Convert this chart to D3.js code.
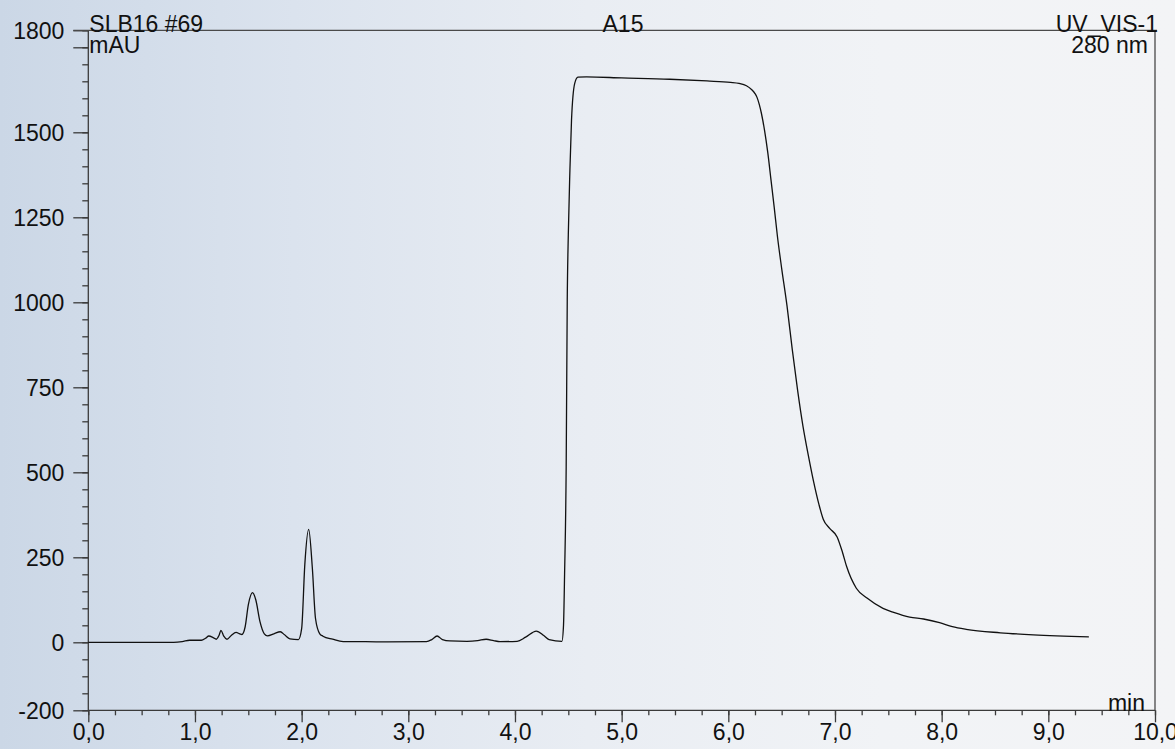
<!DOCTYPE html>
<html>
<head>
<meta charset="utf-8">
<script src="https://cdn.jsdelivr.net/npm/d3@7"></script>
<style>
  html, body { margin: 0; padding: 0; }
  body { width: 1175px; height: 749px; overflow: hidden;
         background: linear-gradient(90deg, #cbd7e6 0%, #dbe3ee 25%, #e9edf3 50%, #f1f3f6 75%, #f3f4f6 100%); }
  svg { display: block; font-family: "Liberation Sans", Arial, sans-serif; }
  .axis path, .axis line { stroke: #3a3a3a; stroke-width: 1.3; }
  .axis text { fill: #111; font-size: 23px; }
</style>
</head>
<body>
<svg id="chart" width="1175" height="749"></svg>
<script>
// retention time (min) and absorbance (mAU)
const times = [0.0, 0.5, 0.8, 0.88, 0.95, 1.06, 1.10, 1.13, 1.17, 1.20, 1.225, 1.244, 1.27, 1.30, 1.34, 1.385, 1.42, 1.44,
  1.47, 1.50, 1.54, 1.57, 1.61, 1.65, 1.68, 1.74, 1.80, 1.84, 1.89, 1.97, 2.00, 2.03, 2.066, 2.10, 2.13, 2.17, 2.20,
  2.29, 2.39, 2.6, 2.8, 3.17, 3.22, 3.27, 3.32, 3.39, 3.55, 3.65, 3.73, 3.80, 3.86, 4.02, 4.10, 4.20, 4.27, 4.32,
  4.44, 4.455, 4.465, 4.48, 4.49, 4.50, 4.515, 4.53, 4.56, 4.59, 4.67, 5.0, 5.45, 5.8, 6.02, 6.10, 6.17, 6.22, 6.25,
  6.27, 6.29, 6.31, 6.34, 6.37, 6.40, 6.43, 6.46, 6.50, 6.55, 6.60, 6.65, 6.70, 6.75, 6.80, 6.85, 6.89, 6.95, 7.02,
  7.07, 7.11, 7.20, 7.30, 7.45, 7.55, 7.70, 7.83, 7.98, 8.10, 8.23, 8.55, 8.86, 9.38];
const mAU = [0, 0, 0, 2, 6, 6, 12, 18.5, 14, 9, 20, 35, 18, 9, 20, 29, 25, 23,
  45, 110, 146, 125, 60, 25, 19, 25, 31, 22, 10, 8, 40, 230, 332, 220, 70, 25, 18,
  9, 2, 2, 1, 2, 8, 18.5, 8, 4, 3, 5, 9, 5, 2, 3, 15, 33, 20, 8,
  3, 50, 200, 516, 1007, 1200, 1389, 1536, 1644, 1662, 1663, 1660, 1656, 1651, 1647, 1644, 1637, 1625, 1614,
  1602, 1582, 1556, 1505, 1440, 1360, 1280, 1195, 1100, 990, 860, 740, 635, 550, 472, 405, 362, 335, 310,
  265, 222, 159, 130, 100, 88, 74, 68.5, 58, 46, 38, 28, 22, 16];

const yLabelTicks = [-200, 0, 250, 500, 750, 1000, 1250, 1500, 1750, 1800];
const xLabelTicks = [0, 1, 2, 3, 4, 5, 6, 7, 8, 9, 10];
const headerLeft = ["SLB16 #69", "mAU"];
const headerMid = "A15";
const headerRight = ["UV_VIS-1", "280 nm"];

const svg = d3.select("#chart");
const margin = { left: 88.3, right: 1155, top: 30.3, bottom: 710.3 };

const x = d3.scaleLinear().domain([0, 10]).range([margin.left, margin.right]);
const y = d3.scaleLinear().domain([-200, 1800]).range([margin.bottom, margin.top]);

const fmt = d3.format(".1f");

// minor ticks first
svg.append("g")
  .attr("class", "axis")
  .attr("transform", `translate(${margin.left},0)`)
  .call(d3.axisLeft(y).tickValues(d3.range(-200, 1801, 50)).tickSize(6).tickFormat(""))
  .call(g => g.select(".domain").remove());

svg.append("g")
  .attr("class", "axis")
  .attr("transform", `translate(0,${margin.bottom})`)
  .call(d3.axisBottom(x).tickValues(d3.range(0, 10.01, 0.25)).tickSize(5).tickFormat(""))
  .call(g => g.select(".domain").remove());

// y axis
svg.append("g")
  .attr("class", "axis")
  .attr("transform", `translate(${margin.left},0)`)
  .call(d3.axisLeft(y).tickValues(yLabelTicks).tickSize(15).tickPadding(9)
    .tickFormat(d => d === 1750 ? "" : d))
  .call(g => g.select(".domain").attr("d", `M0,${margin.top}V${margin.bottom}`))
  .call(g => g.selectAll("text").attr("dy", "0.35em"));

// x axis
svg.append("g")
  .attr("class", "axis")
  .attr("transform", `translate(0,${margin.bottom})`)
  .call(d3.axisBottom(x).tickValues(xLabelTicks).tickSize(12).tickPadding(1)
    .tickFormat(d => fmt(d).replace(".", ",")))
  .call(g => g.select(".domain").attr("d", `M${margin.left},0H${margin.right}`));

// frame top and right
svg.append("path")
  .attr("d", `M${margin.left - 15},${margin.top}H${margin.right + 2}M${margin.right},${margin.top}V${margin.bottom}`)
  .attr("stroke", "#4a4a4a").attr("stroke-width", 1.3).attr("fill", "none");

// chromatogram trace
const pts = times.map((t, i) => [t, mAU[i]]);
svg.append("path")
  .datum(pts)
  .attr("fill", "none")
  .attr("stroke", "#111")
  .attr("stroke-width", 1.3)
  .attr("d", d3.line().x(d => x(d[0])).y(d => y(d[1])).curve(d3.curveMonotoneX));

// header labels
const txt = (s, px, py, anchor) => svg.append("text")
  .attr("x", px).attr("y", py).attr("text-anchor", anchor)
  .attr("font-size", 23).attr("fill", "#111").text(s);

txt(headerLeft[0], margin.left + 1, 32, "start");
txt(headerLeft[1], margin.left + 1, 53, "start");
txt(headerMid, 623, 32, "middle");
txt(headerRight[0], margin.right + 3, 32, "end");
txt(headerRight[1], margin.right - 7, 53, "end");
txt("min", 1145, 711, "end");
</script>
</body>
</html>
